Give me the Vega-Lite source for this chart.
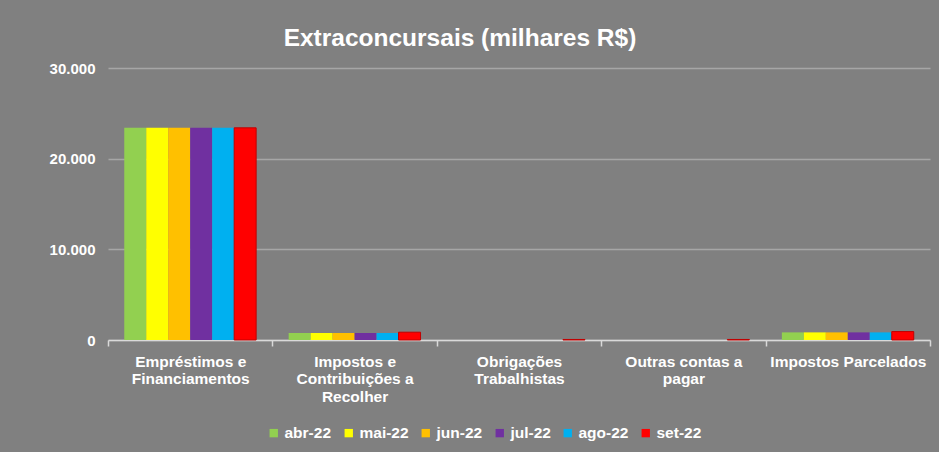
{
  "$schema": "https://vega.github.io/schema/vega-lite/v6.json",
  "autosize": {"type": "none"},
  "width": 822,
  "height": 272,
  "padding": {"left": 108, "top": 68, "right": 9, "bottom": 112},
  "background": "#808080",
  "title": {
    "text": "Extraconcursais (milhares R$)",
    "color": "#ffffff",
    "font": "Liberation Sans",
    "fontSize": 24.5,
    "fontWeight": "bold",
    "anchor": "middle",
    "dx": -59,
    "offset": 10
  },
  "data": {
    "values": [
      {"categoria": "Empréstimos e Financiamentos", "mes": "abr-22", "valor": 23400},
      {"categoria": "Empréstimos e Financiamentos", "mes": "mai-22", "valor": 23400},
      {"categoria": "Empréstimos e Financiamentos", "mes": "jun-22", "valor": 23400},
      {"categoria": "Empréstimos e Financiamentos", "mes": "jul-22", "valor": 23400},
      {"categoria": "Empréstimos e Financiamentos", "mes": "ago-22", "valor": 23400},
      {"categoria": "Empréstimos e Financiamentos", "mes": "set-22", "valor": 23400},
      {"categoria": "Impostos e Contribuições a Recolher", "mes": "abr-22", "valor": 770},
      {"categoria": "Impostos e Contribuições a Recolher", "mes": "mai-22", "valor": 770},
      {"categoria": "Impostos e Contribuições a Recolher", "mes": "jun-22", "valor": 770},
      {"categoria": "Impostos e Contribuições a Recolher", "mes": "jul-22", "valor": 770},
      {"categoria": "Impostos e Contribuições a Recolher", "mes": "ago-22", "valor": 770},
      {"categoria": "Impostos e Contribuições a Recolher", "mes": "set-22", "valor": 860},
      {"categoria": "Obrigações Trabalhistas", "mes": "abr-22", "valor": 0},
      {"categoria": "Obrigações Trabalhistas", "mes": "mai-22", "valor": 0},
      {"categoria": "Obrigações Trabalhistas", "mes": "jun-22", "valor": 0},
      {"categoria": "Obrigações Trabalhistas", "mes": "jul-22", "valor": 0},
      {"categoria": "Obrigações Trabalhistas", "mes": "ago-22", "valor": 0},
      {"categoria": "Obrigações Trabalhistas", "mes": "set-22", "valor": 60},
      {"categoria": "Outras contas a pagar", "mes": "abr-22", "valor": 0},
      {"categoria": "Outras contas a pagar", "mes": "mai-22", "valor": 0},
      {"categoria": "Outras contas a pagar", "mes": "jun-22", "valor": 0},
      {"categoria": "Outras contas a pagar", "mes": "jul-22", "valor": 0},
      {"categoria": "Outras contas a pagar", "mes": "ago-22", "valor": 0},
      {"categoria": "Outras contas a pagar", "mes": "set-22", "valor": 60},
      {"categoria": "Impostos Parcelados", "mes": "abr-22", "valor": 840},
      {"categoria": "Impostos Parcelados", "mes": "mai-22", "valor": 840},
      {"categoria": "Impostos Parcelados", "mes": "jun-22", "valor": 840},
      {"categoria": "Impostos Parcelados", "mes": "jul-22", "valor": 840},
      {"categoria": "Impostos Parcelados", "mes": "ago-22", "valor": 840},
      {"categoria": "Impostos Parcelados", "mes": "set-22", "valor": 930}
    ]
  },
  "mark": {"type": "bar", "strokeWidth": 1},
  "encoding": {
    "x": {
      "field": "categoria",
      "type": "nominal",
      "sort": null,
      "scale": {"paddingInner": 0, "paddingOuter": 0},
      "axis": {
        "title": null,
        "labelAngle": 0,
        "labelColor": "#ffffff",
        "labelFont": "Liberation Sans",
        "labelFontSize": 15.5,
        "labelFontWeight": "bold",
        "labelPadding": 8,
        "labelLineHeight": 17.5,
        "labelExpr": "datum.value == 'Empréstimos e Financiamentos' ? ['Empréstimos e', 'Financiamentos'] : datum.value == 'Impostos e Contribuições a Recolher' ? ['Impostos e', 'Contribuições a', 'Recolher'] : datum.value == 'Obrigações Trabalhistas' ? ['Obrigações', 'Trabalhistas'] : datum.value == 'Outras contas a pagar' ? ['Outras contas a', 'pagar'] : datum.value",
        "domainColor": "#d9d9d9",
        "domainWidth": 1.5,
        "tickColor": "#d9d9d9",
        "tickWidth": 1.5,
        "tickSize": 6,
        "tickBand": "extent",
        "grid": false
      }
    },
    "xOffset": {
      "field": "mes",
      "type": "nominal",
      "sort": ["abr-22", "mai-22", "jun-22", "jul-22", "ago-22", "set-22"],
      "scale": {"paddingInner": 0, "paddingOuter": 0.74}
    },
    "y": {
      "field": "valor",
      "type": "quantitative",
      "scale": {"domain": [0, 30000], "nice": false},
      "axis": {
        "title": null,
        "values": [0, 10000, 20000, 30000],
        "labelExpr": "replace(format(datum.value, ','), ',', '.')",
        "labelColor": "#ffffff",
        "labelFont": "Liberation Sans",
        "labelFontSize": 15,
        "labelFontWeight": "bold",
        "labelPadding": 13,
        "domain": false,
        "ticks": false,
        "grid": true,
        "gridColor": "#a6a6a6",
        "gridWidth": 1.5
      }
    },
    "color": {
      "field": "mes",
      "type": "nominal",
      "sort": ["abr-22", "mai-22", "jun-22", "jul-22", "ago-22", "set-22"],
      "scale": {
        "domain": ["abr-22", "mai-22", "jun-22", "jul-22", "ago-22", "set-22"],
        "range": ["#92D050", "#FFFF00", "#FFC000", "#7030A0", "#00B0F0", "#FF0000"]
      },
      "legend": {
        "title": null,
        "orient": "none",
        "legendX": 158,
        "legendY": 357,
        "direction": "horizontal",
        "symbolType": "square",
        "symbolSize": 70,
        "symbolStrokeWidth": 0,
        "labelColor": "#ffffff",
        "labelFont": "Liberation Sans",
        "labelFontSize": 15.5,
        "labelFontWeight": "bold",
        "labelOffset": 3,
        "columnPadding": 9
      }
    },
    "stroke": {
      "condition": {"test": "datum.mes == 'set-22'", "value": "#C00000"},
      "value": null
    }
  },
  "config": {
    "view": {"stroke": null}
  }
}
